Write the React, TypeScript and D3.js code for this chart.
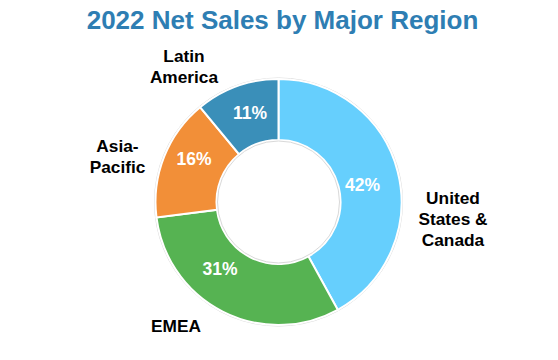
import React from "react";
import * as d3 from "d3";

const categories = ["United States & Canada", "EMEA", "Asia-Pacific", "Latin America"];
const shares = [42, 31, 16, 11];
const labelLines = [["United", "States &", "Canada"], ["EMEA"], ["Asia-", "Pacific"], ["Latin", "America"]];
const colors = ["#66CFFD", "#56B352", "#F28F38", "#3A8FB9"];

// layout (text positions, relative to page)
const outerLabelPos = [
  { x: 453, y: 204 },
  { x: 176, y: 332 },
  { x: 117.5, y: 152 },
  { x: 184, y: 62 },
];
const pctLabelPos = [
  { x: 362.5, y: 185 },
  { x: 220, y: 269 },
  { x: 194, y: 159 },
  { x: 250, y: 113 },
];

const W = 558;
const H = 360;
const cx = 278.5;
const cy = 202;
const outerR = 123;
const innerR = 62;
const font = "'Liberation Sans', Arial, sans-serif";

export default function App() {
  const pie = d3.pie<number>().sort(null).value((d) => d)(shares);
  const arc = d3.arc<d3.PieArcDatum<number>>().innerRadius(innerR).outerRadius(outerR);
  return (
    <svg width={W} height={H} style={{ position: "absolute", left: 0, top: 0, background: "#fff" }} fontFamily={font}>
      <text x={282.5} y={29} textAnchor="middle" fontSize={26} fontWeight="bold" fill="#2E7EB3">
        2022 Net Sales by Major Region
      </text>
      <circle cx={cx} cy={cy} r={outerR + 1} fill="none" stroke="#d9d9d9" strokeWidth={1} />
      <g transform={`translate(${cx},${cy})`}>
        {pie.map((p, i) => (
          <path key={categories[i]} d={arc(p) || ""} fill={colors[i]} stroke="#fff" strokeWidth={2} />
        ))}
      </g>
      <circle cx={cx} cy={cy} r={innerR - 1} fill="none" stroke="#d9d9d9" strokeWidth={1} />
      {pie.map((p, i) => (
        <text key={"p" + i} x={pctLabelPos[i].x} y={pctLabelPos[i].y + 6.3} textAnchor="middle" fontSize={17.5} fontWeight="bold" fill="#fff">
          {shares[i]}%
        </text>
      ))}
      {labelLines.map((lines, i) => (
        <text key={"l" + i} textAnchor="middle" fontSize={17.3} fontWeight="bold" fill="#000">
          {lines.map((ln, j) => (
            <tspan key={j} x={outerLabelPos[i].x} y={outerLabelPos[i].y + j * 21}>
              {ln}
            </tspan>
          ))}
        </text>
      ))}
    </svg>
  );
}
